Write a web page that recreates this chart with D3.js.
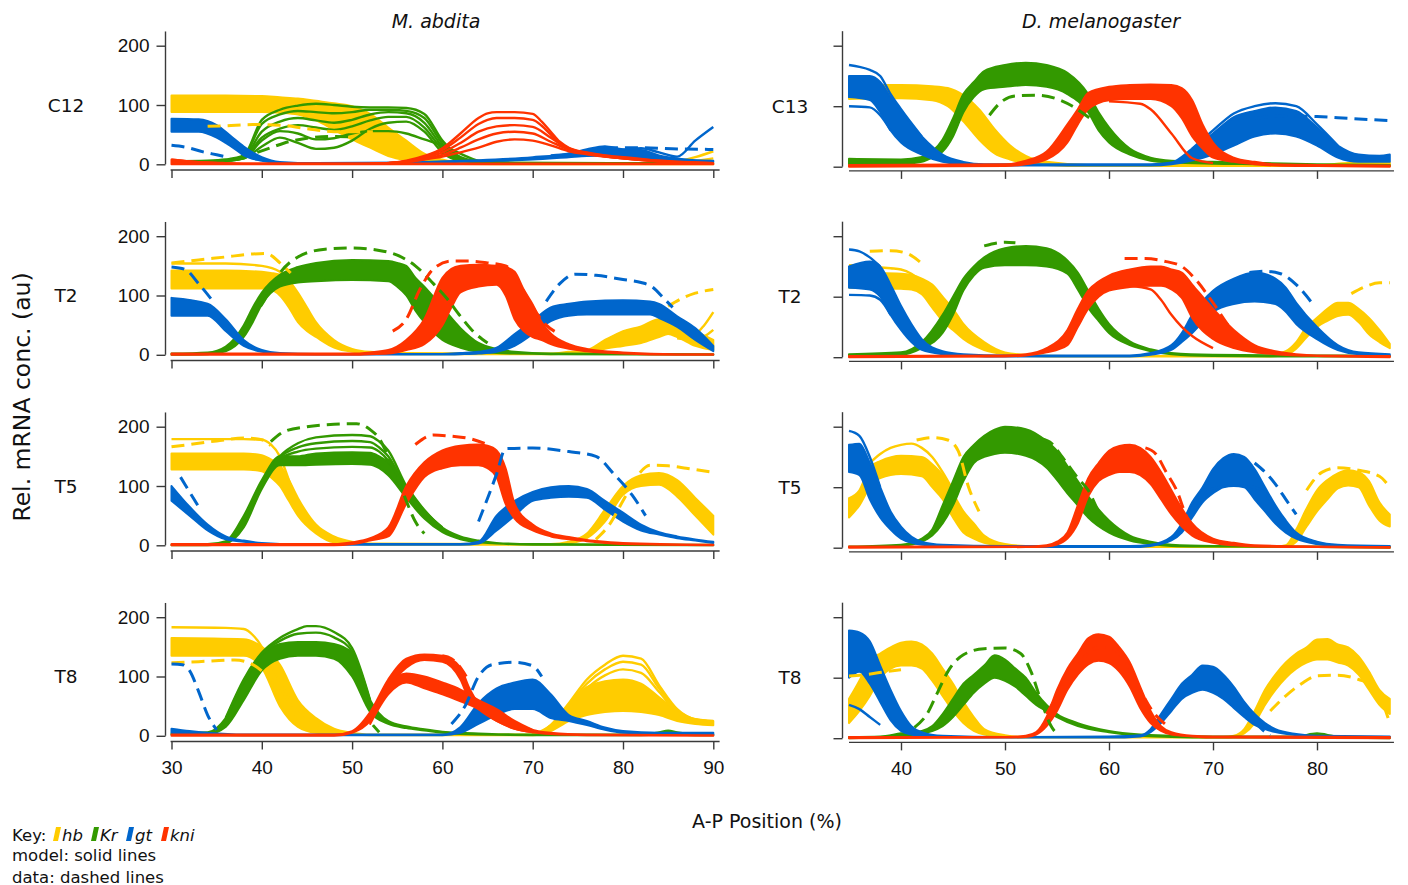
<!DOCTYPE html>
<html><head><meta charset="utf-8">
<script src="https://cdn.jsdelivr.net/npm/d3@7"></script>
<style>
body{margin:0;background:#fff;}
svg{display:block;font-family:"DejaVu Sans",sans-serif;}
</style></head><body>
<svg id="chart" width="1408" height="885"></svg>
<script>
// ---------------- labels ----------------
const speciesTitles = ["M. abdita", "D. melanogaster"];
const rowLabelsLeft = ["C12", "T2", "T5", "T8"];
const rowLabelsRight = ["C13", "T2", "T5", "T8"];
const geneNames = ["hb", "Kr", "gt", "kni"];
const xTicksLeft = [30, 40, 50, 60, 70, 80, 90];
const xTicksRight = [40, 50, 60, 70, 80];
const yTicks = [0, 100, 200];
const keyLines = ["model: solid lines", "data: dashed lines"];

// ---------------- M. abdita ----------------
// bands: [x, low, high] envelopes of model bundles; lines: [x, y] single model runs; data: [x, y] dashed data (null = gap)
const abdC12_hb = {
  bands: [[[30,88,116],[36,88,116],[40,88,115],[42,87,113],[44,84,111],[46,74,107],[48,58,103],[50,42,98],[52,28,85],[54,14,62],[56,7,40],[58,4,18],[60,2,8],[62,0.5,3],[66,0,1.5],[86,0,1.5],[90,0,2]]],
  lines: [[[82,1],[85,3],[88,12],[90,22]],[[84,1],[87,4],[90,10]]],
  data: [[34,64],[36,65],[39,67],[42,66],[45,60],[48,55],[50,55],[52.3,55]]
};
const abdC12_Kr = {
  bands: [],
  lines: [
    [[30,5],[34,6],[36,8],[38,15],[40,75],[42,92],[44,99],[46,102],[48,100],[50,97],[52,96],[54,96],[56,95],[58,85],[60,40],[62,12],[64,5],[68,2],[74,1],[90,1]],
    [[30,4],[34,5],[36,7],[38,14],[40,68],[42,84],[44,90],[46,88],[48,86],[50,88],[52,92],[54,92],[56,90],[58,78],[60,35],[62,10],[64,4],[68,2],[90,1]],
    [[30,3],[36,6],[38,12],[40,55],[42,72],[44,78],[46,74],[48,70],[50,75],[52,84],[54,88],[56,86],[58,70],[60,30],[62,8],[66,2],[90,1]],
    [[30,3],[36,6],[38,11],[40,45],[42,60],[44,66],[46,62],[48,58],[50,64],[52,74],[54,80],[56,80],[58,62],[60,25],[62,7],[66,2],[90,1]],
    [[30,3],[36,6],[38,10],[40,30],[42,45],[44,36],[46,26],[48,28],[50,40],[52,60],[54,70],[56,72],[58,55],[60,20],[62,6],[66,2],[90,1]],
    [[36,6],[38,10],[40,40],[42,56],[44,52],[46,42],[48,44],[50,52],[52,56],[54,56],[56,52],[58,42],[60,32],[62,18],[64,6],[66,3],[90,1]]
  ],
  data: [[39.5,20],[41,28],[42.5,36],[45,44],[48,47],[50,46]]
};
const abdC12_gt = {
  bands: [[[30,55,77],[33,55,76],[35,45,66],[36,36,55],[37,26,42],[38,15,30],[40,6,12],[42,2,4],[46,1,2],[56,1,3],[60,3,5],[64,5,7],[70,8,12],[74,12,18],[76,14,24],[78,15,28],[80,13,25],[82,10,24],[84,8,15],[86,6,10],[90,4,6]]],
  lines: [[[72,15],[74,18],[76,25],[78,30],[80,25],[82,27],[84,20],[86,13],[88,40],[90,63]]],
  data: [[30,32],[31.5,29],[33.5,21],[35,16],[36.5,11],null,[78,28],[82,28],[86,26],[90,25]]
};
const abdC12_kni = {
  bands: [[[30,0,8],[32,0,5],[34,0,3],[38,0,1.5],[90,0,1.5]]],
  lines: [
    [[30,8],[32,5],[34,3],[36,2],[40,1],[52,1],[54,2],[56,6],[58,14],[60,27],[62,52],[64,78],[65,86],[66,88],[68,88],[70,85],[71,72],[72,55],[73,38],[74,28],[76,20],[78,15],[80,12],[82,9],[84,6],[86,4],[90,2]],
    [[52,1],[54,2],[56,5],[58,12],[60,24],[62,45],[64,68],[65,75],[66,78],[68,78],[70,75],[71,65],[72,50],[73,36],[74,27],[76,19],[80,11],[84,6],[90,2]],
    [[52,1],[54,2],[56,5],[58,11],[60,20],[62,36],[64,55],[66,64],[68,66],[70,63],[72,45],[74,26],[76,18],[80,10],[84,5],[90,1]],
    [[52,1],[56,4],[58,9],[60,16],[62,28],[64,42],[66,52],[68,55],[70,52],[72,38],[74,25],[76,18],[80,10],[84,5],[90,1]],
    [[52,1],[56,4],[58,8],[60,13],[62,20],[64,28],[66,38],[68,42],[70,40],[72,32],[74,22],[76,17],[80,10],[84,5],[90,1]]
  ],
  data: []
};

const abdT2_hb = {
  bands: [[[30,112,142],[36,112,142],[40,112,140],[41,110,138],[42,100,135],[43,80,125],[44,55,105],[45,40,80],[46,30,55],[48,12,25],[50,5,10],[52,3,5],[56,1,3],[72,1,2],[74,2,5],[76,3,8],[78,10,25],[80,15,40],[82,20,48],[84,30,60],[85,35,60],[86,30,55],[88,15,40],[90,8,25]]],
  lines: [[[30,154],[36,154],[40,150],[42,140],[43,125],[44,100],[45.5,60],[47,30],[50,8]],[[86,30],[88,35],[89,50],[90,72]],[[86,28],[88,25],[90,42]]],
  data: [[30,155],[33,160],[36,165],[39,170],[40.5,171],[42,155],[43.2,138],null,[85,82],[86.5,95],[88,104],[90,110]]
};
const abdT2_Kr = {
  bands: [[[30,0,2],[34,1,4],[36,6,14],[38,30,50],[39,55,80],[40,85,105],[42,115,135],[44,122,148],[46,124,155],[50,126,160],[54,124,158],[55,115,155],[56,100,150],[57,75,130],[58,55,115],[60,25,80],[62,12,45],[64,5,20],[66,3,10],[68,2,5],[72,1,2],[90,0,1]]],
  lines: [],
  data: [[38.5,55],[40,85],[42,138],[44,165],[47,178],[50,180],[53,176],[55,168],[57,150],[59,120],[60.5,95],[62,65],[63.5,38],[65,20]]
};
const abdT2_gt = {
  bands: [[[30,66,96],[34,66,86],[36,40,60],[38,15,25],[40,5,8],[42,2,3],[46,0.5,1.5],[60,0.5,1.5],[62,1,3],[64,2,5],[66,5,12],[68,15,35],[70,35,57],[72,57,80],[74,66,86],[76,68,90],[80,68,92],[83,68,90],[84,62,86],[86,47,65],[88,25,45],[90,6,15]]],
  lines: [],
  data: [[30,148],[31.5,144],[33,120],[34.5,92],null,[71.5,90],[73,120],[74.7,136],[77,134],[80,127],[82,122],[83.2,115],[84.6,94],[85.5,80]]
};
const abdT2_kni = {
  bands: [[[30,0,2],[50,0,2],[52,1,4],[54,2,8],[56,8,25],[58,18,60],[60,50,130],[61,80,145],[62,105,150],[64,115,152],[66,118,150],[67,100,148],[68,60,140],[69,40,110],[70,30,85],[71,25,55],[72,18,36],[74,10,18],[76,6,10],[80,2,4],[86,0,1],[90,0,1]]],
  lines: [],
  data: [[54.5,40],[56,60],[57.5,110],[59,145],[61,158],[63,158],[65,155],[67,150],[68.5,120],[70,80],[71.5,50],[73,35]]
};

const abdT5_hb = {
  bands: [[[30,128,155],[38,128,155],[40,125,152],[41,115,145],[42,100,135],[43,75,110],[44,50,80],[46,20,35],[48,5,15],[50,3,6],[52,1,3],[72,1,2],[74,3,6],[76,12,20],[78,40,60],[80,85,100],[82,100,118],[84,102,122],[86,82,110],[88,50,80],[90,18,50]]],
  lines: [[[30,179],[38,179],[40,178],[41,170],[42,150],[43,110],[44,70],[46,30],[48,10]]],
  data: [[30,166],[32,170],[35,176],[38,181],[40,178],[41,168],null,[77,10],[78.5,35],[80,75],[81.5,115],[83,135],[85,134],[87,130],[90,123]]
};
const abdT5_Kr = {
  bands: [[[30,0,1],[34,0,2],[36,3,7],[38,30,50],[40,95,110],[42,135,150],[44,135,150],[46,136,155],[50,137,157],[52,136,156],[53,130,150],[54,118,140],[56,80,100],[58,45,60],[60,22,30],[62,10,15],[64,5,8],[66,3,4],[70,1,2],[90,0,1]]],
  lines: [
    [[38,45],[40,105],[42,150],[44,172],[46,182],[50,186],[52,184],[53,175],[54,160],[56,100],[58,58],[60,30]],
    [[38,42],[40,103],[42,148],[44,165],[46,172],[50,176],[52,174],[53,165],[54,150],[56,96],[58,55],[60,28]],
    [[38,40],[40,100],[42,145],[44,158],[46,163],[50,166],[52,165],[53,158],[54,143],[56,92],[58,52],[60,26]]
  ],
  data: [[41,175],[42.5,192],[45,200],[48,204],[50.5,205],[52,195],[53,180],[54,150],[55,115],[56,75],[57,40],[58,20]]
};
const abdT5_gt = {
  bands: [[[30,75,100],[32,50,65],[34,25,35],[36,10,15],[38,6,8],[40,3,4],[44,1,2],[62,1,2],[64,3,6],[66,25,50],[68,50,75],[70,75,90],[72,80,98],[74,82,100],[76,80,95],[78,60,75],[80,40,55],[82,25,35],[84,18,22],[86,12,15],[88,8,10],[90,4,6]]],
  lines: [],
  data: [[31,115],[32,90],[33,65],null,[64,40],[66,120],[67,163],[70,164],[74,158],[77,150],[79,120],[81,85],[82.5,50]]
};
const abdT5_kni = {
  bands: [[[30,0,2],[48,0,2],[50,2,5],[52,8,12],[54,15,30],[56,70,100],[58,115,140],[60,130,160],[62,135,168],[64,135,170],[65,130,168],[66,115,160],[67,70,130],[68,45,70],[70,25,35],[72,15,20],[74,10,14],[76,7,9],[78,4,6],[80,2,4],[90,0,1]]],
  lines: [],
  data: [[57,170],[59,186],[61,184],[63,180],[65,170]]
};

const abdT8_hb = {
  bands: [[[30,135,165],[38,135,163],[40,115,150],[42,50,120],[44,15,60],[46,5,30],[48,3,12],[50,2,5],[52,1,2],[70,1,2],[72,8,18],[74,25,52],[76,35,82],[78,40,92],[80,42,95],[82,40,88],[84,35,65],[86,25,42],[88,20,28],[90,18,25]]],
  lines: [
    [[30,183],[36,182],[38,180],[39,170],[40,150],[41,120],[42,90],[44,45],[46,20],[48,8]],
    [[70,2],[72,18],[74,55],[76,95],[78,120],[80,135],[82,130],[84,85],[86,45],[88,28],[90,25]],
    [[70,2],[72,15],[74,52],[76,88],[78,112],[80,125],[82,120],[84,80],[86,43],[88,27],[90,24]],
    [[70,2],[72,12],[74,48],[76,80],[78,102],[80,112],[82,106],[84,74],[86,40],[88,26],[90,22]]
  ],
  data: [[30,123],[33,125],[37,128],[39,120],[41,95],[42.5,70],[44,30],[45,10]]
};
const abdT8_Kr = {
  bands: [[[30,2,4],[34,3,6],[36,15,30],[38,60,90],[40,110,135],[42,130,155],[44,135,158],[46,135,158],[48,130,155],[50,100,140],[52,40,60],[54,20,25],[56,13,16],[58,9,11],[60,5,7],[62,3,5],[64,2,4],[70,1,2],[82,1,2],[84,3,6],[85,5,9],[86,3,6],[88,1,3],[90,1,2]]],
  lines: [
    [[36,30],[38,95],[40,140],[42,165],[44,180],[45,185],[46,185],[48,175],[50,148],[52,60]],
    [[36,28],[38,92],[40,138],[42,160],[44,172],[46,174],[48,166],[50,142],[52,58]]
  ],
  data: [[52.3,18],[53,6]]
};
const abdT8_gt = {
  bands: [[[30,5,12],[32,3,8],[34,2,5],[38,1,2],[60,1,2],[62,5,15],[64,20,55],[66,35,80],[68,45,90],[70,45,95],[72,30,70],[74,25,35],[76,18,25],[78,10,14],[80,5,8],[84,3,5],[90,2,5]]],
  lines: [],
  data: [[30,121],[31.2,120],[32,110],[33,75],[34,35],[35,10],null,[61,20],[62.5,50],[64,100],[65.5,120],[68,124],[70,118],[71,100]]
};
const abdT8_kni = {
  bands: [
    [[30,0,2],[48,0,2],[50,5,8],[52,25,40],[54,80,95],[56,115,130],[58,128,137],[60,125,135],[62,95,115],[63,60,80],[64,45,55],[66,25,40],[68,12,22],[70,6,10],[72,3,5],[76,1,2],[90,0,1]],
    [[52,20,35],[54,70,85],[56,90,105],[58,80,100],[60,70,90],[62,58,78],[64,45,60],[66,25,45],[68,12,25],[70,6,10]]
  ],
  lines: [],
  data: [[60,135],[61,130],[62,115],[63,90]]
};

// ---------------- D. melanogaster ----------------
const melC13_hb = {
  bands: [[[35,112,135],[40,113,135],[43,110,133],[44.5,100,130],[46,75,118],[47.5,45,95],[49,22,62],[50.5,12,35],[52,6,18],[54,3,8],[58,1,3],[80,1,3],[83,2,6],[87,2,7]]],
  lines: [],
  data: []
};
const melC13_Kr = {
  bands: [[[35,4,13],[40,4,12],[42,8,16],[43,15,25],[44,25,45],[45,50,80],[46,90,120],[47,115,140],[48,128,158],[50,132,168],[52,135,172],[54,132,168],[56,120,155],[58,90,120],[59,60,90],[60,40,65],[62,20,30],[64,10,15],[66,7,10],[70,5,8],[75,4,6],[80,2,4],[87,1,3]]],
  lines: [],
  data: [[48.5,85],[49.5,105],[51,117],[53,118],[55,112],[56.5,100],[58,82],[59,70]]
};
const melC13_gt = {
  bands: [[[35,115,150],[37,110,150],[38,90,140],[39,60,115],[40,40,92],[42,20,50],[44,8,20],[46,4,8],[48,2,4],[64,2,4],[66,4,7],[68,10,30],[70,20,55],[72,35,82],[74,50,92],[76,55,98],[78,50,92],[80,35,65],[82,15,35],[84,8,20],[86,8,18],[87,8,20]]],
  lines: [[[35,168],[36,165],[37,160],[38,150],[39,120],[40,95],[42,50]],[[35,100],[37,98],[38,85],[39,60]],[[68,30],[70,60],[72,88],[74,100],[76,105],[78,100],[80,70],[82,35]]],
  data: [[74,80],[77,84],[80,83],[83,80],[87,76]]
};
const melC13_kni = {
  bands: [[[35,0,3],[50,1,4],[52,4,10],[54,12,25],[56,40,70],[57,70,95],[58,95,122],[60,110,132],[62,112,135],[64,112,136],[66,100,135],[67,80,130],[68,50,110],[69,30,70],[70,15,40],[72,8,15],[74,4,8],[76,2,4],[80,1,3],[87,0,2]]],
  lines: [[[60,108],[63,104],[64,95],[66,55],[68,14],[70,6]]],
  data: []
};

const melT2_hb = {
  bands: [[[35,115,140],[40,113,138],[41,112,136],[42,104,130],[43,82,120],[44,60,100],[45,45,80],[46,30,55],[48,12,25],[50,5,8],[52,2,4],[56,1,2],[75,1,2],[77,4,10],[78,14,25],[79,33,50],[80,50,65],[81,60,80],[82,68,90],[83,70,90],[84,58,80],[85,38,65],[86,25,45],[87,15,22]]],
  lines: [[[35,152],[37,150],[39,147],[40,145],[41,138],[42,125],[43,105]]],
  data: [[37,175],[39,176],[40.5,172],[42,155],null,[83.3,105],[84.7,117],[86,123],[87,123]]
};
const melT2_Kr = {
  bands: [[[35,2,5],[40,4,8],[42,15,25],[44,40,70],[45,70,100],[46,110,130],[47,135,150],[48,148,165],[50,152,180],[52,152,184],[54,150,180],[56,138,160],[57,112,140],[58,82,110],[59,60,80],[60,40,55],[62,20,26],[64,10,13],[66,5,7],[70,2,4],[80,1,3],[87,1,2]]],
  lines: [],
  data: [[48,184],[50,190],[51,189]]
};
const melT2_gt = {
  bands: [[[35,115,150],[37,112,158],[38,100,150],[39,70,120],[40,45,85],[41,25,55],[42,12,30],[44,5,10],[46,3,5],[50,1,3],[62,1,3],[64,4,7],[66,12,20],[67,25,40],[68,40,70],[70,75,110],[72,88,130],[74,92,140],[76,88,130],[77,75,115],[78,55,90],[80,30,50],[82,12,20],[84,5,8],[87,3,5]]],
  lines: [[[35,178],[36,175],[37,165],[38,150]],[[35,103],[37,102],[38,95],[39,70]]],
  data: [[73.5,140],[75,142],[76.5,138],[78,120],[79.5,90]]
};
const melT2_kni = {
  bands: [[[35,0,2],[50,1,3],[52,3,5],[54,8,15],[56,20,45],[57,50,80],[58,80,110],[59,100,125],[60,110,135],[62,116,145],[64,118,150],[65,118,150],[66,112,145],[67,98,140],[68,65,120],[70,30,80],[72,15,45],[74,8,20],[76,5,10],[78,3,5],[80,2,3],[87,0,2]]],
  lines: [[[62,118],[64,112],[65,95],[66,70],[67,50],[68,35],[70,15]]],
  data: [[61.5,163],[63.5,163],[65.5,158],[67,150],[68.5,125],[70,90],[71.5,52],[72.5,32]]
};

const melT5_hb = {
  bands: [[[35,50,82],[36,70,95],[37,100,133],[38,115,143],[40,122,152],[42,118,150],[43,100,138],[44,80,120],[45,50,90],[46,25,60],[47,15,40],[48,8,20],[50,3,6],[52,1,3],[76,1,2],[77,2,4],[78,10,30],[79,35,65],[80,60,95],[81,80,112],[82,98,123],[83,103,128],[84,100,125],[85,70,110],[86,45,75],[87,35,55]]],
  lines: [[[37,140],[38,155],[39,165],[40,170],[41,172],[42,165],[43,150],[44,125],[45,95]]],
  data: [[41.5,178],[43,182],[44.5,178],[45.5,160],[46.5,100],[47.5,60],null,[79,95],[80.5,125],[82,132],[84,128],[86,118],[87,100]]
};
const melT5_Kr = {
  bands: [[[35,1,2],[40,3,5],[42,10,15],[43,20,30],[44,40,70],[45,70,110],[46,110,150],[47,140,170],[48,150,185],[49,155,195],[50,157,200],[52,152,196],[54,132,176],[55,112,160],[56,90,135],[57,70,110],[58,50,85],[60,25,45],[62,12,20],[64,6,10],[66,3,5],[70,2,3],[80,1,2],[87,0,2]]],
  lines: [],
  data: [[53.5,180],[54.5,172],[55.5,150],[57,115],[58,95],[59,60],[60,35]]
};
const melT5_gt = {
  bands: [[[35,125,170],[36,120,172],[37,80,140],[38,50,100],[39,30,60],[40,15,35],[42,5,10],[44,3,5],[50,1,3],[62,1,3],[64,3,5],[66,12,18],[67,25,40],[68,50,75],[69,75,100],[70,90,130],[71,100,148],[72,102,155],[73,100,150],[74,80,130],[75,60,100],[76,40,70],[77,25,45],[78,15,25],[80,6,10],[82,3,5],[87,2,3]]],
  lines: [[[35,193],[36,185],[37,150],[38,100]],[[67,40],[68,65],[69,85],[70,98],[72,103],[74,100],[75,90],[76,65]]],
  data: [[74,140],[75,125],[76,105],[77,80],[78,55]]
};
const melT5_kni = {
  bands: [[[35,0,2],[52,1,2],[54,2,4],[55,5,10],[56,15,25],[57,40,70],[58,85,115],[59,110,140],[60,120,160],[61,125,168],[62,125,170],[63,120,165],[64,105,150],[65,80,125],[66,55,95],[67,35,65],[68,20,40],[70,8,15],[72,4,8],[74,2,4],[80,1,2],[87,0,1]]],
  lines: [],
  data: [[63.5,165],[64.5,155],[65.5,125],[66.5,95],[67.5,50],[68.5,30]]
};

const melT8_hb = {
  bands: [[[35,25,65],[36,45,95],[37,70,130],[38,100,140],[39,115,150],[40,120,158],[41,120,160],[42,115,155],[43,95,140],[44,70,115],[45,45,90],[46,25,60],[47,12,35],[48,6,15],[50,2,5],[52,1,2],[71,1,2],[72,2,4],[73,8,15],[74,25,45],[75,55,80],[76,80,105],[77,100,125],[78,115,140],[79,125,150],[80,130,163],[81,130,164],[82,125,155],[83,120,150],[84,105,135],[85,80,110],[86,55,80],[87,40,65]]],
  lines: [],
  data: [[35,103],[36.5,105],[38.5,110],[40,113],null,[75.5,45],[77,70],[78.5,90],[80,103],[82,104],[84,97],[85.5,85],[86.5,50],[87,25]]
};
const melT8_Kr = {
  bands: [[[35,0,2],[38,1,3],[40,3,8],[42,8,12],[43,12,20],[44,20,40],[45,35,65],[46,55,90],[47,75,105],[48,90,120],[49,100,137],[50,95,130],[51,85,115],[52,70,100],[53,55,75],[54,45,55],[55,35,40],[57,20,25],[60,10,12],[63,4,6],[66,2,4],[70,1,3],[78,1,3],[80,3,8],[82,1,3],[87,0,2]]],
  lines: [],
  data: [[41.3,18],[42.5,40],[43.5,75],[44.5,110],[46,138],[48,148],[50,149],[51.5,140],[52.5,110],[53.5,60],[54.5,18],[55.2,5]]
};
const melT8_gt = {
  bands: [[[35,100,178],[36,110,175],[37,90,160],[38,60,120],[39,30,80],[40,12,45],[41,6,20],[42,3,10],[44,2,4],[50,1,2],[60,1,3],[63,3,5],[64,10,15],[65,25,40],[66,45,65],[67,65,90],[68,75,105],[69,80,120],[70,75,118],[71,65,105],[72,50,85],[73,35,60],[74,22,40],[75,15,25],[76,10,15],[78,5,7],[80,3,4],[87,2,3]]],
  lines: [[[35,55],[36,48],[37,35],[38,22]]],
  data: [[70.5,105],[71.5,85],[72.5,60],[73.5,40],[74.5,18],[75.5,5]]
};
const melT8_kni = {
  bands: [[[35,0,2],[50,1,2],[52,2,4],[53,6,10],[54,20,35],[55,45,80],[56,80,115],[57,105,140],[58,122,165],[59,128,172],[60,124,168],[61,110,150],[62,85,125],[63,50,85],[64,25,45],[65,12,20],[66,6,10],[68,3,4],[70,1,3],[87,0,2]]],
  lines: [],
  data: [[54,40],[55,70],[56,98],[57,120],[58,140],[59,150],[60,150],[61,140],[62,115],[63,80],[64.3,42],[65.5,22]]
};

const panels = [
  {col:0,row:0,genes:[abdC12_hb,abdC12_Kr,abdC12_gt,abdC12_kni]},
  {col:0,row:1,genes:[abdT2_hb,abdT2_Kr,abdT2_gt,abdT2_kni]},
  {col:0,row:2,genes:[abdT5_hb,abdT5_Kr,abdT5_gt,abdT5_kni]},
  {col:0,row:3,genes:[abdT8_hb,abdT8_Kr,abdT8_gt,abdT8_kni]},
  {col:1,row:0,genes:[melC13_hb,melC13_Kr,melC13_gt,melC13_kni]},
  {col:1,row:1,genes:[melT2_hb,melT2_Kr,melT2_gt,melT2_kni]},
  {col:1,row:2,genes:[melT5_hb,melT5_Kr,melT5_gt,melT5_kni]},
  {col:1,row:3,genes:[melT8_hb,melT8_Kr,melT8_gt,melT8_kni]}
];

// ---------------- styling / layout ----------------
const geneColors = ["#ffcc00", "#339900", "#0066cc", "#ff3300"];
const axisColor = "#3a3a3a";
const textColor = "#111";
const rowStep = 190.5;
const colGeom = [
  {dom:[30,90], rng:[171.5,713.3], axisDom:[29.9,90.7], ticks:xTicksLeft, yAxisX:165.5, bottom0:164.3, ky:0.593, xOff:5.7, labels:rowLabelsLeft, labelX:66, titleX:436},
  {dom:[40,80], rng:[901,1317], axisDom:[35,87.4], ticks:xTicksRight, yAxisX:842.5, bottom0:166.7, ky:0.605, xOff:4.2, labels:rowLabelsRight, labelX:790, titleX:1101}
];

const svg = d3.select("#chart");
svg.append("rect").attr("width",1408).attr("height",885).attr("fill","#fff");

panels.forEach(p => {
  const g = colGeom[p.col];
  const bottom = g.bottom0 + p.row * rowStep;
  const x = d3.scaleLinear().domain(g.dom).range(g.rng);
  const y = d3.scaleLinear().domain([0,100]).range([bottom, bottom - 100 * g.ky]);
  const gp = svg.append("g");

  // axes
  const ya = gp.append("g").attr("transform", `translate(${g.yAxisX},0)`)
    .call(d3.axisLeft(y).tickValues(yTicks).tickSize(9).tickPadding(7)
      .tickFormat(p.col === 0 ? d3.format("d") : () => ""));
  ya.select(".domain").remove();
  ya.append("line").attr("x1",0).attr("x2",0).attr("y1",y(0)).attr("y2",y(224))
    .attr("stroke",axisColor).attr("stroke-width",1.4);
  ya.selectAll(".tick line").attr("stroke",axisColor).attr("stroke-width",1.4);
  ya.selectAll(".tick text").attr("fill",textColor).style("font-size","19px");

  const xa = gp.append("g").attr("transform", `translate(0,${bottom + g.xOff})`)
    .call(d3.axisBottom(x).tickValues(g.ticks).tickSize(8).tickPadding(11)
      .tickFormat(p.row === 3 ? d3.format("d") : () => ""));
  xa.select(".domain").remove();
  xa.append("line").attr("x1",x(g.axisDom[0])).attr("x2",x(g.axisDom[1])).attr("y1",0).attr("y2",0)
    .attr("stroke",axisColor).attr("stroke-width",1.4);
  xa.selectAll(".tick line").attr("stroke",axisColor).attr("stroke-width",1.4);
  xa.selectAll(".tick text").attr("fill",textColor).style("font-size","19px");

  // row label
  gp.append("text").attr("x", g.labelX).attr("y", y(100)).attr("text-anchor","middle")
    .attr("dominant-baseline","central").attr("fill",textColor).style("font-size","18.5px")
    .text(g.labels[p.row]);

  const area = d3.area().x(d => x(d[0])).y0(d => y(d[1])).y1(d => y(d[2])).curve(d3.curveMonotoneX);
  const line = d3.line().defined(d => d !== null).x(d => x(d[0])).y(d => y(d[1])).curve(d3.curveMonotoneX);

  // model (solid)
  p.genes.forEach((gd, gi) => {
    const c = geneColors[gi];
    gd.bands.forEach(b => {
      gp.append("path").attr("d", area(b)).attr("fill", c)
        .attr("stroke", c).attr("stroke-width", 2).attr("stroke-linejoin","round");
    });
    gd.lines.forEach(l => {
      gp.append("path").attr("d", line(l)).attr("fill","none")
        .attr("stroke", c).attr("stroke-width", 2.4).attr("stroke-linejoin","round");
    });
  });
  // data (dashed)
  p.genes.forEach((gd, gi) => {
    if (!gd.data.length) return;
    gp.append("path").attr("d", line(gd.data)).attr("fill","none")
      .attr("stroke", geneColors[gi]).attr("stroke-width", 3)
      .attr("stroke-dasharray","13,7");
  });
});

// titles
colGeom.forEach((g, i) => {
  svg.append("text").attr("x", g.titleX).attr("y", 28).attr("text-anchor","middle")
    .attr("fill",textColor).style("font-size","19px").style("font-style","italic")
    .text(speciesTitles[i]);
});

// axis titles
svg.append("text").attr("transform","translate(30,397) rotate(-90)").attr("text-anchor","middle")
  .attr("fill",textColor).style("font-size","23.5px").text("Rel. mRNA conc. (au)");
svg.append("text").attr("x",767).attr("y",828).attr("text-anchor","middle")
  .attr("fill",textColor).style("font-size","19px").text("A-P Position (%)");

// key
const key = svg.append("g").style("font-size","16.5px").attr("fill",textColor);
key.append("text").attr("x",12).attr("y",841).text("Key:");
const keyPos = [53, 91, 126, 161];
geneNames.forEach((n, i) => {
  const bx = keyPos[i];
  key.append("polygon")
    .attr("points", `${bx},841 ${bx+5},841 ${bx+8},827 ${bx+3},827`)
    .attr("fill", geneColors[i]);
  key.append("text").attr("x", bx + 9).attr("y", 841).style("font-style","italic").text(n);
});
keyLines.forEach((t, i) => {
  key.append("text").attr("x",12).attr("y", 861 + i * 21.5).text(t);
});
</script>
</body></html>
